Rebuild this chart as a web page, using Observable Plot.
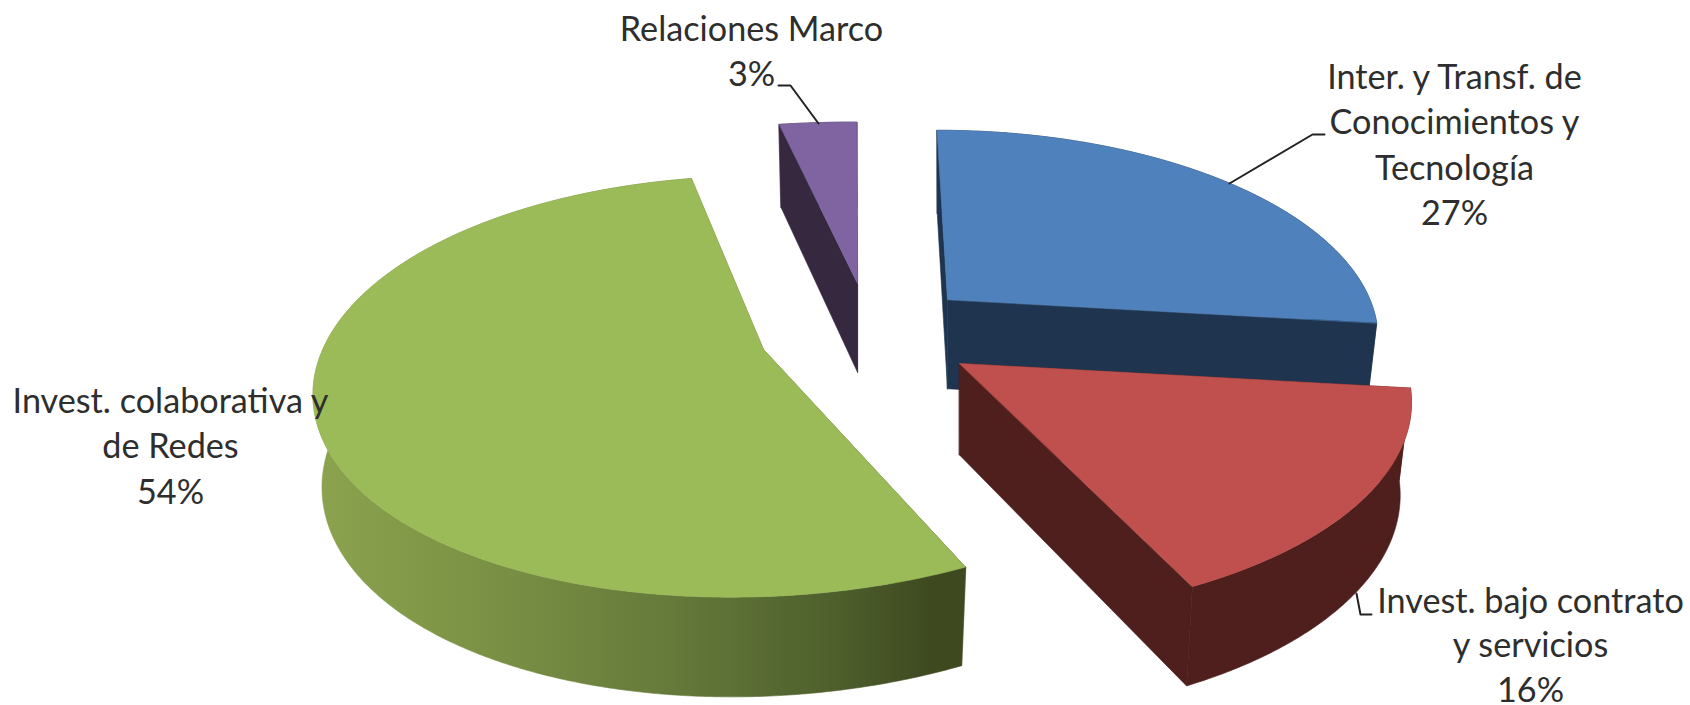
<!DOCTYPE html>
<html>
<head>
<meta charset="utf-8">
<script src="https://cdn.jsdelivr.net/npm/d3@7"></script>
<script src="https://cdn.jsdelivr.net/npm/@observablehq/plot@0.6"></script>
<style>html,body{margin:0;padding:0;background:#fff}svg{display:block}</style>
</head>
<body>
<div id="chart"></div>
<script>
// ---- data ----
const categories = ["Inter. y Transf. de Conocimientos y Tecnología", "Invest. bajo contrato y servicios", "Invest. colaborativa y de Redes", "Relaciones Marco"];
const shares = [27, 16, 54, 3];
const labelLines = [
  ["Inter. y Transf. de", "Conocimientos y", "Tecnología"],
  ["Invest. bajo contrato", "y servicios"],
  ["Invest. colaborativa y", "de Redes"],
  ["Relaciones Marco"]
];

// ---- styles ----
const topColors = ["#4f81bd", "#c0504d", "#9bbb59", "#8064a2"];
const wallColors = ["#1f344e", "#4e1f1d", "url(#greenWall)", "#35283f"];
const drawOrder = [3, 0, 2, 1];

// ---- layout of the exploded perspective pie ----
const startDeg = -3;
const center = [880, 330];
const explode = [[67, -31], [79, 33], [-117, 19], [-23, -47]];
const sliceScaleX = [0.965, 1.015, 0.99, 1.1];
const sliceScaleY = [0.965, 1.015, 0.99, 0.92];
const sliceShear = [0.05, 0.08, 0.143, 0.13];
const sliceBend = [0, 0, 0.00026, 0];
const lowerScale = [0.975, 0.975, 0.98, 0.975];
const rx = 441, ry = 206, persp = 0.176, shearY = 0.02;
const labelAnchor = [[1454, 88], [1530, 612], [170, 412], [751, 40]];
const labelStep = [45.6, 44.6, 45.6, 45.6];
const leaders = [
  [[1229, 183], [1312, 134], [1324, 134]],
  [[1356, 593], [1360, 614], [1371, 614]],
  [],
  [[778, 85], [790, 85], [818, 123]]
];

const rows = categories.map((c, i) => {
  const before = d3.sum(shares.slice(0, i));
  const total = d3.sum(shares);
  return {i, a0: startDeg + before / total * 360, a1: startDeg + (before + shares[i]) / total * 360,
    cx: center[0] + explode[i][0], cy: center[1] + explode[i][1]};
});

function project(s, deg) {
  const t = deg * Math.PI / 180, u = Math.sin(t), v = Math.cos(t), w = 1 + persp * v;
  const px = sliceScaleX[s.i] * rx * u / w, py = -sliceScaleY[s.i] * ry * v / w;
  return {x: s.cx + px - sliceShear[s.i] * py - sliceBend[s.i] * py * py, y: s.cy + py + shearY * px};
}
function lower(s, p) {
  return {x: s.cx + (p.x - s.cx) * lowerScale[s.i], y: p.y + 90 + 0.035 * (p.y - 320)};
}
function arc(s) {
  const n = Math.ceil(Math.abs(s.a1 - s.a0) * 2), out = [];
  for (let j = 0; j <= n; j++) out.push(project(s, s.a0 + (s.a1 - s.a0) * j / n));
  return out;
}

const poly = (pts, fill) => Plot.line(pts, {x: "x", y: "y", fill, stroke: fill, strokeWidth: 0.6, curve: "linear-closed"});

const marks = [
  () => {
    const defs = d3.create("svg:defs");
    const g = defs.append("linearGradient").attr("id", "greenWall")
      .attr("gradientUnits", "userSpaceOnUse")
      .attr("x1", 318).attr("x2", 964).attr("y1", 0).attr("y2", 0);
    [[0, "#8ba34e"], [0.3, "#788e43"], [0.55, "#65793a"], [0.8, "#4e5f2c"], [0.95, "#3e4920"], [1, "#3e4920"]]
      .forEach(([o, c]) => g.append("stop").attr("offset", o).attr("stop-color", c));
    return defs.node();
  }
];

for (const i of drawOrder) {
  const s = rows[i], curve = arc(s), apex = {x: s.cx, y: s.cy};
  const first = curve[0], last = curve[curve.length - 1];
  const wall = wallColors[i];
  marks.push(poly([...curve, ...curve.map(p => lower(s, p)).reverse()], wall));
  marks.push(poly([apex, first, lower(s, first), lower(s, apex)], wall));
  marks.push(poly([apex, last, lower(s, last), lower(s, apex)], wall));
  marks.push(poly([apex, ...curve], topColors[i]));
}

leaders.forEach(l => {
  if (l.length) marks.push(Plot.line(l.map(([x, y]) => ({x, y})), {x: "x", y: "y", stroke: "#222", strokeWidth: 2}));
});

const fontSize = 34.2;
rows.forEach(s => {
  const lines = [...labelLines[s.i], `${shares[s.i]}%`];
  lines.forEach((t, j) => {
    marks.push(Plot.text([t], {
      x: () => labelAnchor[s.i][0],
      y: () => labelAnchor[s.i][1] + j * labelStep[s.i],
      text: d => d,
      fontFamily: "Lato", fontSize, fill: "#2e2e2e", textAnchor: "middle", lineAnchor: "bottom"
    }));
  });
});

const chart = Plot.plot({
  width: 1690, height: 705,
  marginTop: 0, marginRight: 0, marginBottom: 0, marginLeft: 0,
  x: {domain: [0, 1690], range: [0, 1690], axis: null},
  y: {domain: [0, 705], range: [0, 705], axis: null},
  marks
});
document.getElementById("chart").appendChild(chart);
</script>
</body>
</html>
